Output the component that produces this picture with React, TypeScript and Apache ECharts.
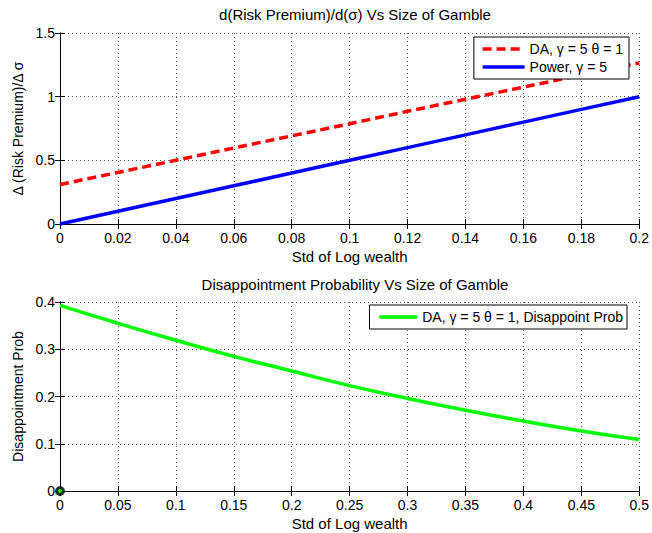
import React, { useEffect, useRef } from "react";
import * as echarts from "echarts";

// Top panel: slope of the risk premium against gamble size
const sigmaTop = [0, 0.02, 0.04, 0.06, 0.08, 0.1, 0.12, 0.14, 0.16, 0.18, 0.2];
const daSlope = [0.31, 0.405, 0.5, 0.597, 0.692, 0.787, 0.885, 0.98, 1.075, 1.17, 1.265];
const powerSlope = [0, 0.1, 0.2, 0.3, 0.4, 0.5, 0.6, 0.7, 0.8, 0.9, 1.0];

// Bottom panel: disappointment probability against gamble size
const sigmaBottom = [0, 0.05, 0.1, 0.15, 0.2, 0.25, 0.3, 0.35, 0.4, 0.45, 0.5];
const disappointProb = [0.393, 0.355, 0.319, 0.285, 0.254, 0.223, 0.196, 0.171, 0.148, 0.127, 0.109];
const originMarker = [[0, 0]];

const topXTicks = { min: 0, max: 0.2, interval: 0.02 };
const topYTicks = { min: 0, max: 1.5, interval: 0.5 };
const bottomXTicks = { min: 0, max: 0.5, interval: 0.05 };
const bottomYTicks = { min: 0, max: 0.4, interval: 0.1 };

const FONT = "'Liberation Sans', Arial, Helvetica, sans-serif";
const pair = (xs: number[], ys: number[]) => xs.map((x, i) => [x, ys[i]]);

function mainAxis(gridIndex: number, ticks: any, position: string, name: string, isY: boolean) {
  return {
    type: "value",
    gridIndex,
    position,
    ...ticks,
    name,
    nameLocation: "middle",
    nameGap: isY ? 27 : 25,
    nameTextStyle: { color: "#000", fontSize: isY ? 14 : 15, fontFamily: FONT },
    axisLine: { show: true, lineStyle: { color: "#000", width: 1 } },
    axisTick: { show: true, inside: true, length: 5, lineStyle: { color: "#000" } },
    axisLabel: { color: "#000", fontSize: 14, fontFamily: FONT, margin: isY ? 5 : 7 },
    splitLine: { show: true, lineStyle: { color: "#555", type: [1, 3], width: 1 } },
  };
}

function mirrorAxis(gridIndex: number, ticks: any, position: string) {
  return {
    type: "value",
    gridIndex,
    position,
    ...ticks,
    axisLine: { show: true, lineStyle: { color: "#000", width: 1 } },
    axisTick: { show: true, inside: true, length: 5, lineStyle: { color: "#000" } },
    axisLabel: { show: false },
    splitLine: { show: false },
  };
}

export default function App() {
  const ref = useRef<HTMLDivElement>(null);

  useEffect(() => {
    if (!ref.current) return;
    const chart = echarts.init(ref.current, undefined, { renderer: "svg" });
    const legendBase = {
      orient: "vertical",
      backgroundColor: "#fff",
      borderColor: "#000",
      borderWidth: 1,
      itemGap: 4,
      itemHeight: 16,
      // legend keys show only the line, no marker
      itemStyle: { opacity: 0, color: "rgba(0,0,0,0)", borderWidth: 0 },
      lineStyle: { width: 3.5 },
      textStyle: { color: "#000", fontSize: 14, fontFamily: FONT },
    };
    chart.setOption({
      animation: false,
      backgroundColor: "#fff",
      textStyle: { fontFamily: FONT },
      title: [
        {
          text: "d(Risk Premium)/d(σ) Vs Size of Gamble",
          left: 350,
          top: 2,
          textAlign: "center",
          textStyle: { color: "#000", fontSize: 15, fontWeight: "normal", fontFamily: FONT },
        },
        {
          text: "Disappointment Probability Vs Size of Gamble",
          left: 350,
          top: 272,
          textAlign: "center",
          textStyle: { color: "#000", fontSize: 15, fontWeight: "normal", fontFamily: FONT },
        },
      ],
      legend: [
        {
          ...legendBase,
          data: ["DA, γ = 5 θ = 1", "Power, γ = 5"],
          right: 23,
          top: 37,
          itemWidth: 42,
          padding: [5, 6, 5, 7],
        },
        {
          ...legendBase,
          data: ["DA, γ = 5 θ = 1, Disappoint Prob"],
          right: 25,
          top: 305,
          itemWidth: 38,
          padding: [5, 4, 5, 8],
        },
      ],
      grid: [
        { left: 60, right: 12, top: 33, height: 191 },
        { left: 60, right: 12, top: 302, height: 189 },
      ],
      xAxis: [
        mainAxis(0, topXTicks, "bottom", "Std of Log wealth", false),
        mirrorAxis(0, topXTicks, "top"),
        mainAxis(1, bottomXTicks, "bottom", "Std of Log wealth", false),
        mirrorAxis(1, bottomXTicks, "top"),
      ],
      yAxis: [
        mainAxis(0, topYTicks, "left", "Δ (Risk Premium)/Δ σ", true),
        mirrorAxis(0, topYTicks, "right"),
        mainAxis(1, bottomYTicks, "left", "Disappointment Prob", true),
        mirrorAxis(1, bottomYTicks, "right"),
      ],
      series: [
        {
          name: "DA, γ = 5 θ = 1",
          type: "line",
          xAxisIndex: 0,
          yAxisIndex: 0,
          data: pair(sigmaTop, daSlope),
          showSymbol: false,
          symbol: "none",
          clip: false,
          lineStyle: { color: "#ff0000", width: 3.5, type: [9, 5] },
          itemStyle: { color: "#ff0000" },
        },
        {
          name: "Power, γ = 5",
          type: "line",
          xAxisIndex: 0,
          yAxisIndex: 0,
          data: pair(sigmaTop, powerSlope),
          showSymbol: false,
          symbol: "none",
          clip: false,
          lineStyle: { color: "#0000ff", width: 3.5 },
          itemStyle: { color: "#0000ff" },
        },
        {
          name: "DA, γ = 5 θ = 1, Disappoint Prob",
          type: "line",
          xAxisIndex: 2,
          yAxisIndex: 2,
          data: pair(sigmaBottom, disappointProb),
          smooth: true,
          showSymbol: false,
          symbol: "none",
          clip: false,
          lineStyle: { color: "#00ff00", width: 3.5 },
          itemStyle: { color: "#00ff00" },
        },
        {
          name: "origin",
          type: "scatter",
          xAxisIndex: 2,
          yAxisIndex: 2,
          data: originMarker,
          symbol: "circle",
          symbolSize: 7,
          clip: false,
          z: 5,
          itemStyle: { color: "#00ff00", borderColor: "#000", borderWidth: 3 },
        },
      ],
    });
    return () => chart.dispose();
  }, []);

  return (
    <div
      ref={ref}
      style={{ position: "absolute", left: 0, top: 0, width: 652, height: 533 }}
    />
  );
}
